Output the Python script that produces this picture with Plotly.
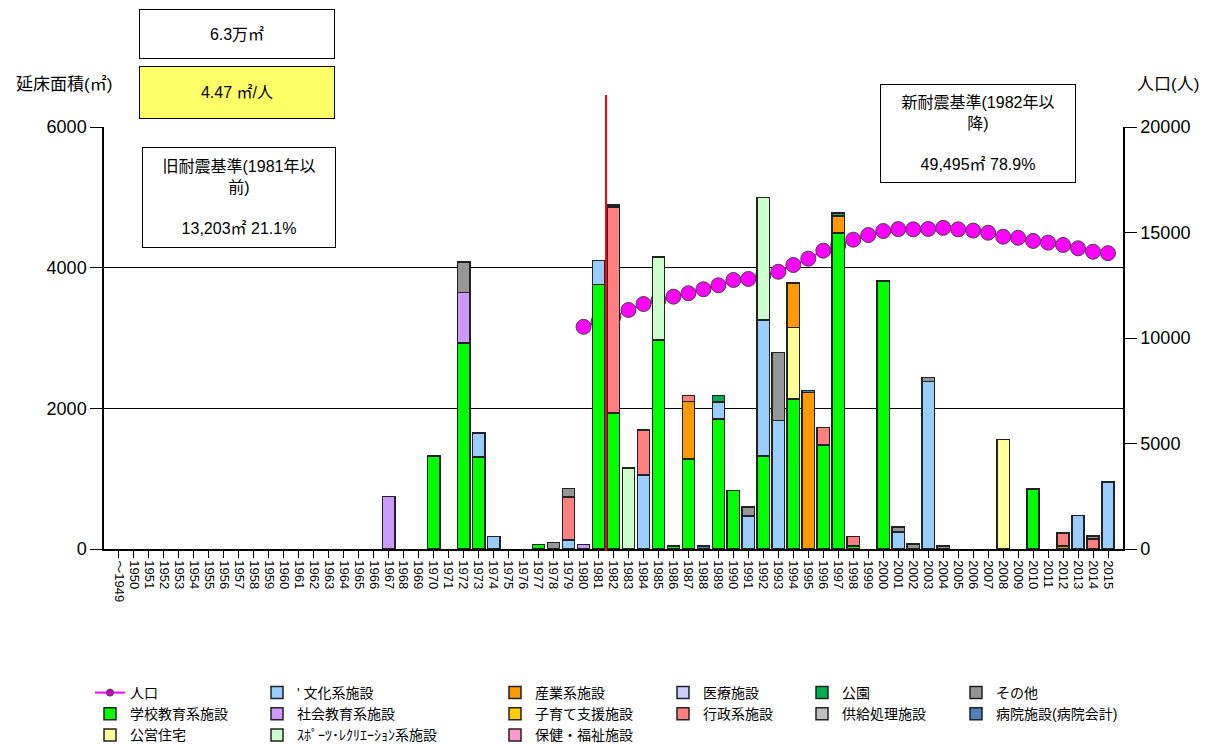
import plotly.graph_objects as go

# 建築年度（～1949, 1950～2015）
years = ["～1949"] + [str(y) for y in range(1950, 2016)]

# 延床面積（㎡） 施設分類別・建築年度別
school = {"1970": 1320, "1972": 2930, "1973": 1310, "1977": 65, "1981": 3760,
          "1982": 1935, "1985": 2970, "1986": 45, "1987": 1280, "1989": 1845,
          "1990": 830, "1992": 1320, "1994": 2135, "1996": 1480, "1997": 4490,
          "1998": 40, "2000": 3810, "2010": 855}
public_housing = {"1994": 1015, "2008": 1560}
culture = {"1973": 340, "1974": 180, "1979": 130, "1981": 340, "1984": 1050,
           "1989": 245, "1991": 470, "1992": 1935, "1993": 1825, "2001": 240,
           "2003": 2380, "2013": 475, "2015": 950}
social_edu = {"1967": 750, "1972": 720, "1980": 65}
sports = {"1983": 1150, "1985": 1180, "1992": 1745}
industry = {"1987": 815, "1994": 635, "1995": 2225, "1997": 245, "2012": 40}
childcare = {}
welfare = {}
medical = {}
admin = {"1979": 610, "1982": 2930, "1984": 640, "1987": 90, "1996": 250,
         "1998": 135, "2012": 190, "2014": 140}
park = {"1989": 90, "1997": 40}
supply = {}
other = {"1972": 430, "1978": 90, "1979": 120, "1991": 130, "1993": 970,
         "2001": 70, "2002": 70, "2003": 60, "2004": 40, "2014": 45}
hospital = {"1982": 25, "1988": 40, "1995": 30}

# 人口（人） 1980～2015
pop_years = [str(y) for y in range(1980, 2016)]
population = [10530, 10780, 11010, 11330, 11610, 11790, 11960, 12120, 12310,
              12500, 12750, 12800, 12970, 13140, 13460, 13760, 14140, 14400,
              14660, 14880, 15070, 15160, 15150, 15170, 15220, 15150, 15090,
              14990, 14800, 14750, 14600, 14520, 14410, 14250, 14090, 14020]

# (name, values, colour, legend column) in stacking order
series = [
    ("学校教育系施設", school, "#00FF00", "legend"),
    ("公営住宅", public_housing, "#FFFF99", "legend"),
    ("' 文化系施設", culture, "#99CCFF", "legend2"),
    ("社会教育系施設", social_edu, "#CC99FF", "legend2"),
    ("ｽﾎﾟｰﾂ･ﾚｸﾘｴｰｼｮﾝ系施設", sports, "#CCFFCC", "legend2"),
    ("産業系施設", industry, "#FF9900", "legend3"),
    ("子育て支援施設", childcare, "#FFCC00", "legend3"),
    ("保健・福祉施設", welfare, "#FF99CC", "legend3"),
    ("医療施設", medical, "#CCCCFF", "legend4"),
    ("行政系施設", admin, "#FF8080", "legend4"),
    ("公園", park, "#00B050", "legend5"),
    ("供給処理施設", supply, "#C0C0C0", "legend5"),
    ("その他", other, "#969696", "legend6"),
    ("病院施設(病院会計)", hospital, "#4F81BD", "legend6"),
]

FONT = "Liberation Sans, Noto Sans CJK JP, sans-serif"

fig = go.Figure()

# population line (primary axis, drawn beneath the bars)
fig.add_trace(go.Scatter(
    x=pop_years, y=population, mode="lines+markers", name="人口",
    line=dict(color="#FF00FF", width=2),
    marker=dict(size=15, color="#FF00FF", line=dict(color="#444444", width=1)),
    yaxis="y", showlegend=False))
# legend entry for the population line with a small marker
fig.add_trace(go.Scatter(
    x=[None], y=[None], mode="lines+markers", name="人口",
    line=dict(color="#FF00FF", width=2),
    marker=dict(size=7, color="#CC00CC", line=dict(color="#444444", width=1)),
    yaxis="y", legend="legend"))

for name, values, colour, leg in series:
    fig.add_trace(go.Bar(
        x=years, y=[values.get(y) for y in years], name=name,
        marker=dict(color=colour, line=dict(color="#222222", width=1.5)),
        width=0.82, yaxis="y2", legend=leg))

W, H = 1211, 744
L, R, T, B = 104, 1123, 127, 549


def px(x):
    return (x - L) / (R - L)


def py(y):
    return (B - y) / (B - T)


legend_style = dict(orientation="v", yanchor="top", xanchor="left",
                    xref="container", yref="container", traceorder="normal",
                    font=dict(family=FONT, size=14, color="#000000"),
                    bgcolor="rgba(0,0,0,0)", borderwidth=0, tracegroupgap=0,
                    itemwidth=30)
legend_x = [90, 257, 495, 663, 802, 956]
legend_names = ["legend", "legend2", "legend3", "legend4", "legend5", "legend6"]
legends = {n: dict(legend_style, x=x / W, y=1 - 677 / H)
           for n, x in zip(legend_names, legend_x)}

fig.update_layout(
    width=W, height=H,
    margin=dict(l=L, r=W - R, t=T, b=H - B, pad=0, autoexpand=False),
    paper_bgcolor="white", plot_bgcolor="white",
    barmode="stack", bargap=0.18,
    font=dict(family=FONT, size=14, color="#000000"),
    xaxis=dict(type="category", categoryorder="array", categoryarray=years,
               range=[-1, 67], tickmode="array", tickvals=years, ticktext=years,
               tickangle=90, tickfont=dict(size=13), ticks="outside", ticklen=7,
               tickcolor="#000000", showline=True, linecolor="#000000",
               linewidth=1.5, showgrid=False, zeroline=False, automargin=False),
    yaxis=dict(range=[0, 20000], tickvals=[0, 5000, 10000, 15000, 20000],
               tickformat="d", side="right", showgrid=False, zeroline=False,
               showline=True, linecolor="#000000", linewidth=1.5,
               ticks="outside", ticklen=12, tickcolor="#000000",
               tickfont=dict(size=18), automargin=False),
    yaxis2=dict(range=[0, 6000], tickvals=[0, 2000, 4000, 6000], side="left",
                overlaying="y", showgrid=True, gridcolor="#000000", gridwidth=1,
                zeroline=False, showline=True, linecolor="#000000", linewidth=1.5,
                ticks="outside", ticklen=12, tickcolor="#000000",
                tickfont=dict(size=18), automargin=False),
    showlegend=True,
    **legends,
)

# boundary between the old (～1981) and new (1982～) seismic standards
fig.add_shape(type="line", xref="x", yref="paper", x0=32.5, x1=32.5,
              y0=py(551), y1=py(95), line=dict(color="#FF0000", width=2),
              layer="above")

box = dict(xref="paper", yref="paper", showarrow=False, bordercolor="#000000",
           borderwidth=1, borderpad=0, xanchor="center", yanchor="middle",
           align="center", valign="middle", font=dict(family=FONT, size=16))

fig.add_annotation(text="6.3万㎡", x=px(236.5), y=py(33.5), width=194, height=48,
                   bgcolor="#FFFFFF", **box)
fig.add_annotation(text="4.47 ㎡/人", x=px(236.5), y=py(92), width=194, height=51,
                   bgcolor="#FFFF66", **box)
fig.add_annotation(text="旧耐震基準(1981年以<br>前)<br> <br>13,203㎡ 21.1%",
                   x=px(238.5), y=py(197), width=192, height=99,
                   bgcolor="#FFFFFF", **box)
fig.add_annotation(text="新耐震基準(1982年以<br>降)<br> <br>49,495㎡ 78.9%",
                   x=px(977.5), y=py(133), width=194, height=97,
                   bgcolor="#FFFFFF", **box)

fig.add_annotation(text="延床面積(㎡)", x=px(64), y=py(85), xref="paper", yref="paper",
                   showarrow=False, xanchor="center", yanchor="middle",
                   font=dict(family=FONT, size=17))
fig.add_annotation(text="人口(人)", x=px(1168), y=py(85), xref="paper", yref="paper",
                   showarrow=False, xanchor="center", yanchor="middle",
                   font=dict(family=FONT, size=17))

fig.write_html("out.html")
